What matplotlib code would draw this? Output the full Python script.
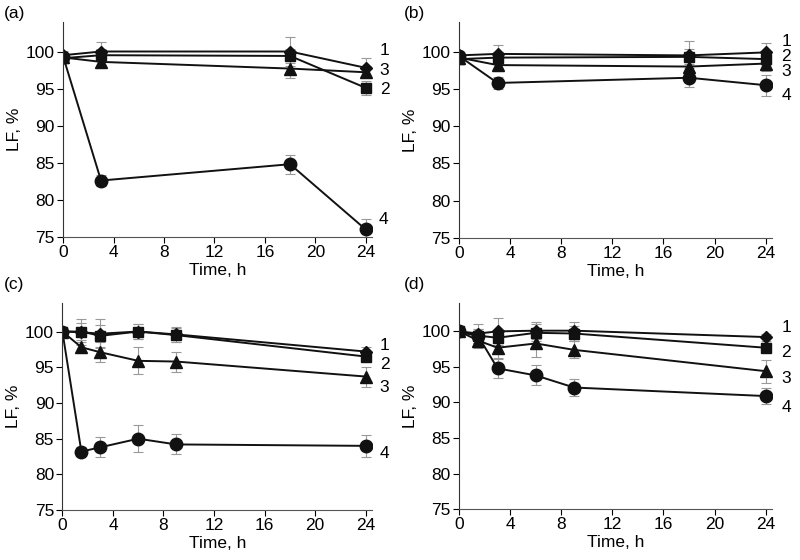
import numpy as np
import matplotlib.pyplot as plt

plt.rcParams['font.family'] = ['Liberation Sans', 'DejaVu Sans']
plt.rcParams['font.size'] = 12.5

# panel (a)
t_a = [0, 3, 18, 24]
a1 = [99.5, 100.0, 100.0, 97.8]
a1_err = [0.6, 1.3, 1.9, 1.3]
a2 = [99.1, 99.5, 99.4, 95.1]
a2_err = [0.5, 0.8, 1.0, 0.9]
a3 = [99.2, 98.6, 97.7, 97.2]
a3_err = [0.5, 0.8, 1.3, 0.8]
a4 = [99.3, 82.6, 84.8, 76.0]
a4_err = [0.5, 0.7, 1.3, 1.4]

# panel (b)
t_b = [0, 3, 18, 24]
b1 = [99.5, 99.7, 99.5, 99.9]
b1_err = [0.5, 1.2, 1.9, 1.2]
b2 = [99.0, 99.2, 99.3, 99.0]
b2_err = [0.5, 0.8, 1.0, 0.8]
b3 = [99.2, 98.2, 98.0, 98.4]
b3_err = [0.5, 0.8, 1.0, 1.0]
b4 = [99.4, 95.8, 96.5, 95.5]
b4_err = [0.5, 0.8, 1.3, 1.4]

# panel (c)
t_c = [0, 1.5, 3, 6, 9, 24]
c1 = [100.0, 99.9, 99.7, 100.0, 99.6, 97.2]
c1_err = [0.4, 1.8, 2.0, 1.1, 1.1, 0.6]
c2 = [100.0, 100.0, 99.4, 100.0, 99.5, 96.5]
c2_err = [0.4, 1.2, 1.5, 1.0, 1.0, 0.6]
c3 = [100.0, 97.8, 97.1, 95.9, 95.8, 93.7]
c3_err = [0.4, 0.8, 1.4, 1.9, 1.4, 1.4]
c4 = [100.0, 83.2, 83.8, 85.0, 84.2, 84.0]
c4_err = [0.4, 0.6, 1.4, 1.9, 1.4, 1.5]

# panel (d)
t_d = [0, 1.5, 3, 6, 9, 24]
d1 = [100.0, 99.7, 100.0, 100.1, 100.1, 99.2]
d1_err = [0.8, 1.4, 1.9, 1.2, 1.2, 0.5]
d2 = [100.0, 99.4, 99.1, 99.8, 99.7, 97.7]
d2_err = [0.6, 1.0, 1.0, 1.2, 1.0, 0.6]
d3 = [100.0, 98.7, 97.7, 98.3, 97.4, 94.4]
d3_err = [0.5, 1.0, 1.5, 1.9, 1.2, 1.6]
d4 = [100.0, 99.3, 94.8, 93.8, 92.1, 90.9]
d4_err = [0.5, 1.0, 1.3, 1.4, 1.2, 1.1]

panels = [
    ('(a)', t_a, [a1, a2, a3, a4], [a1_err, a2_err, a3_err, a4_err],
     [(25.5, 100.1, '1'), (25.5, 94.9, '2'), (25.5, 97.4, '3'), (25.4, 77.3, '4')]),
    ('(b)', t_b, [b1, b2, b3, b4], [b1_err, b2_err, b3_err, b4_err],
     [(25.6, 101.4, '1'), (25.6, 99.4, '2'), (25.6, 97.3, '3'), (25.6, 94.1, '4')]),
    ('(c)', t_c, [c1, c2, c3, c4], [c1_err, c2_err, c3_err, c4_err],
     [(25.5, 98.1, '1'), (25.5, 95.4, '2'), (25.5, 92.2, '3'), (25.5, 82.9, '4')]),
    ('(d)', t_d, [d1, d2, d3, d4], [d1_err, d2_err, d3_err, d4_err],
     [(25.6, 100.6, '1'), (25.6, 97.0, '2'), (25.6, 93.4, '3'), (25.6, 89.3, '4')]),
]

markers = ['D', 's', '^', 'o']
msizes = [6.5, 7.5, 8, 9]

boxes = [
    [0.079, 0.577, 0.386, 0.384],
    [0.574, 0.575, 0.391, 0.386],
    [0.078, 0.089, 0.387, 0.370],
    [0.574, 0.091, 0.391, 0.368],
]
label_pos = [(0.005, 0.99), (0.505, 0.99), (0.005, 0.505), (0.505, 0.505)]

fig = plt.figure(figsize=(8, 5.6), dpi=100)

for k, (name, t, series, errs, labels) in enumerate(panels):
    ax = fig.add_axes(boxes[k])
    for i in range(4):
        ax.errorbar(t, series[i], yerr=errs[i], color='#999999', ls='none',
                    elinewidth=0.8, capsize=3.5, capthick=0.8, zorder=1)
        ax.plot(t, series[i], color='#111111', marker=markers[i],
                markersize=msizes[i], linewidth=1.4, zorder=2 + i * 0.1)
    for x, y, s in labels:
        ax.text(x, y, s, ha='center', va='center', fontsize=12.5, clip_on=False)
    ax.set_xlim(0, 24.5)
    ax.set_ylim(75, 104)
    ax.set_xticks(np.arange(0, 25, 4))
    ax.set_yticks(np.arange(75, 101, 5))
    ax.spines['top'].set_visible(False)
    ax.spines['right'].set_visible(False)
    ax.spines['left'].set_color('#333333')
    ax.spines['bottom'].set_color('#555555')
    ax.tick_params(direction='out', length=4, width=0.8, labelsize=12.5, pad=2)
    ax.set_xlabel('Time, h', labelpad=2)
    ax.set_ylabel('LF, %', labelpad=3)
    fig.text(label_pos[k][0], label_pos[k][1], name, ha='left', va='top', fontsize=12.5)

fig.savefig('out.png', dpi=100)
